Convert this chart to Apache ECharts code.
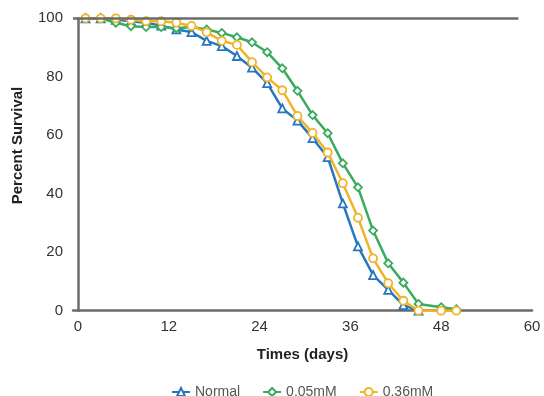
<!DOCTYPE html>
<html><head><meta charset="utf-8">
<script src="https://cdn.jsdelivr.net/npm/echarts@6/dist/echarts.min.js"></script>
<style>html,body{margin:0;padding:0;background:#fff}#c{width:544px;height:396px}</style>
</head><body><div id="c"></div>
<script>
var days = [1,3,5,7,9,11,13,15,17,19,21,23,25,27,29,31,33,35,37,39,41,43,45,48,50];
var normal = [100,100,99.5,99,98.5,97.5,96.2,95.3,92.3,90.5,87.1,83.1,77.8,69.2,65,59,52.5,36.7,22,12.2,7.1,1.9,0,null,null];
var mM005 = [100,100,98.5,97.3,97,97,96.6,97,96.2,95,93.5,91.8,88.4,82.9,75.2,66.9,60.7,50.4,42.2,27.4,16.2,9.6,2.3,1.2,0.5];
var mM036 = [100,100,100,99.5,99,99,98.5,97.4,95.2,92.3,90.9,85,79.8,75.4,66.6,60.8,54.1,43.6,31.8,17.9,9.4,3.4,0,0,0];
var xTicks = [0,12,24,36,48,60];
var yTicks = [0,20,40,60,80,100];
var seriesNames = ['Normal','0.05mM','0.36mM'];

function pairs(vals){ var out=[]; for(var i=0;i<days.length;i++){ if(vals[i]!==null) out.push([days[i],vals[i]]);} return out; }
var colors = ['#2677bd','#3aaa5e','#f0b429'];
var symbols = ['triangle','diamond','circle'];
var datas = [normal, mM005, mM036];
var font = 'Liberation Sans, Arial, sans-serif';
var series = datas.map(function(d,i){
  return {
    name: seriesNames[i], type:'line', data: pairs(d),
    symbol: symbols[i], symbolSize: 8, showAllSymbol:true,
    lineStyle:{color:colors[i], width:2.5},
    itemStyle:{color:'#fff', borderColor:colors[i], borderWidth:1.8},
    z: 2+i
  };
});
series[0].markLine = {
  silent:true, symbol:'none', label:{show:false},
  lineStyle:{color:'#6b6b6b', width:2.5, type:'solid'},
  data:[[{coord:[-0.66,100]},{coord:[58.2,100]}]]
};
var chart = echarts.init(document.getElementById('c'));
chart.setOption({
  animation:false,
  color: colors,
  grid:{left:73, right:12, top:18.3, bottom:85.3, containLabel:false},
  xAxis:{
    type:'value', min:-0.66, max:60,
    axisLine:{show:true, lineStyle:{color:'#6b6b6b', width:2.5}},
    axisTick:{show:false},
    splitLine:{show:false},
    axisLabel:{customValues:xTicks, color:'#333', fontSize:15, fontFamily:font, margin:9},
    name:'Times (days)', nameLocation:'middle', nameGap:37,
    nameTextStyle:{color:'#222', fontSize:15, fontWeight:'bold', fontFamily:font}
  },
  yAxis:{
    type:'value', min:0, max:100, interval:20,
    axisLine:{show:true, lineStyle:{color:'#6b6b6b', width:2.5}},
    axisTick:{show:false},
    splitLine:{show:false},
    axisLabel:{color:'#333', fontSize:15, fontFamily:font, margin:10},
    name:'Percent Survival', nameLocation:'middle', nameGap:48,
    nameTextStyle:{color:'#222', fontSize:15, fontWeight:'bold', fontFamily:font, padding:[0,0,0,38]}
  },
  legend:{
    data: seriesNames, top:380, left:166, itemGap:22, itemWidth:18, itemHeight:10,
    textStyle:{color:'#555', fontSize:14, fontFamily:font}
  },
  series: series
});
</script></body></html>
